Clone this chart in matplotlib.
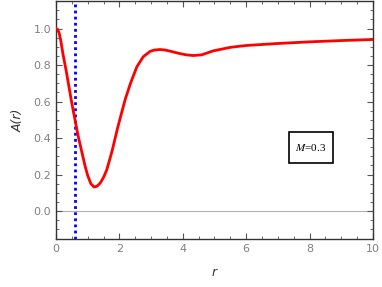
import matplotlib
matplotlib.use('Agg')
import matplotlib.pyplot as plt
from matplotlib.ticker import MultipleLocator

# values
r_vals = [0.0, 0.05, 0.1, 0.15, 0.22, 0.32, 0.41, 0.5, 0.6, 0.7, 0.82, 0.92, 1.0, 1.1, 1.2,
          1.3, 1.4, 1.5, 1.6, 1.77, 1.95, 2.18, 2.35, 2.55, 2.75, 2.97, 3.1,
          3.28, 3.45, 3.6, 3.9, 4.1, 4.33, 4.6, 4.95, 5.5, 6.0, 7.0, 8.0, 9.0, 10.0]
A_vals = [1.0, 0.995, 0.975, 0.935, 0.86, 0.77, 0.68, 0.59, 0.50, 0.41, 0.32, 0.245, 0.195, 0.15, 0.132,
          0.137, 0.155, 0.185, 0.225, 0.33, 0.46, 0.61, 0.70, 0.79, 0.845, 0.875, 0.882,
          0.885, 0.882, 0.876, 0.863, 0.856, 0.852, 0.856, 0.877, 0.897, 0.907, 0.918, 0.927, 0.934, 0.94]
r_horizon = 0.59
mass_label = '$M$=0.3'

plt.rcParams['mathtext.fontset'] = 'stix'

fig = plt.figure(figsize=(3.82, 2.87), dpi=100)
ax = fig.add_axes([0.1466, 0.167, 0.8297, 0.831])

ax.axhline(0, color='#b0b0b0', lw=0.8, zorder=1)
ax.axvline(r_horizon, color='blue', lw=2, ls=(0, (1, 1.2)), zorder=2)
ax.plot(r_vals, A_vals, color='red', lw=2, zorder=3)

ax.set_xlim(0, 10)
ax.set_ylim(-0.153, 1.153)
ax.xaxis.set_major_locator(MultipleLocator(2))
ax.xaxis.set_minor_locator(MultipleLocator(0.5))
ax.yaxis.set_major_locator(MultipleLocator(0.2))
ax.yaxis.set_minor_locator(MultipleLocator(0.05))
ax.yaxis.set_major_formatter(plt.FormatStrFormatter('%.1f'))

for s in ax.spines.values():
    s.set_color('#333333')
    s.set_linewidth(1.0)
ax.tick_params(which='both', direction='in', top=True, right=True,
               color='#555555', labelcolor='#808080', labelsize=8)
ax.tick_params(which='major', length=4, width=0.8)
ax.tick_params(which='minor', length=2, width=0.6)

ax.set_xlabel('r', fontsize=9, style='italic', color='#333333', labelpad=9)
ax.set_ylabel('A(r)', fontsize=9, style='italic', color='#333333', labelpad=6)

ax.text(8.04, 0.35, mass_label, fontsize=8, family='Liberation Serif',
        ha='center', va='center',
        bbox=dict(boxstyle='square,pad=0.6', fc='white', ec='black', lw=1.2,
                  mutation_aspect=1.5))

fig.savefig('out.png', dpi=100)
